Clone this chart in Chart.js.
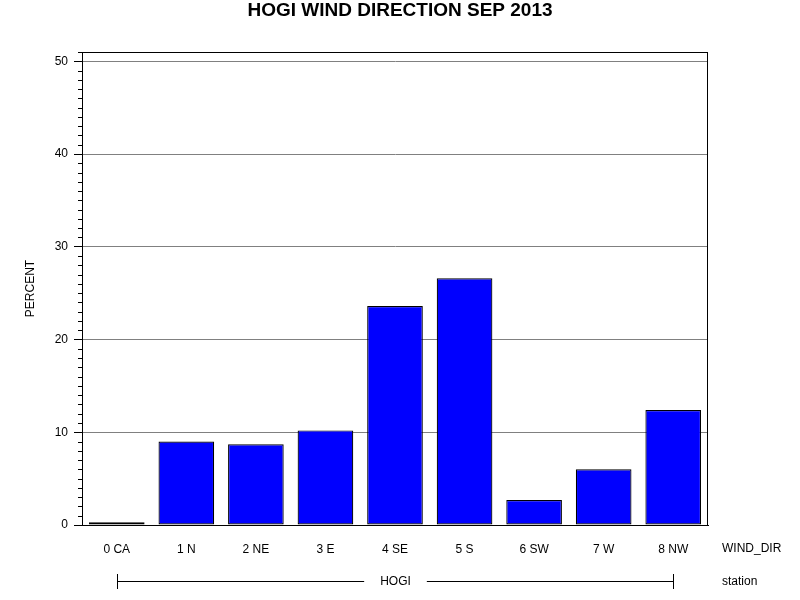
<!DOCTYPE html>
<html>
<head>
<meta charset="utf-8">
<script src="https://cdn.jsdelivr.net/npm/chart.js@4"></script>
<style>
html,body{margin:0;padding:0;background:#fff;}
#wrap{width:800px;height:600px;}
</style>
</head>
<body>
<div id="wrap"><canvas id="c" width="800" height="600"></canvas></div>
<script>
const categories = ["0 CA","1 N","2 NE","3 E","4 SE","5 S","6 SW","7 W","8 NW"];
const percentValues = [0.3, 9.0, 8.7, 10.2, 23.6, 26.6, 2.7, 6.0, 12.4];
const yTickValues = [0, 10, 20, 30, 40, 50];
const yMinorStep = 1;
const yMax = 51;
const titleText = "HOGI WIND DIRECTION SEP 2013";
const yTitle = "PERCENT";
const xVarLabel = "WIND_DIR";
const groupVarLabel = "station";
const groupName = "HOGI";

const FONT = "'Liberation Sans', Arial, sans-serif";

const decor = {
  id: 'decor',
  afterDraw(chart) {
    const ctx = chart.ctx;
    const a = chart.chartArea;
    const ys = chart.scales.y;
    const xs = chart.scales.x;
    ctx.save();
    // frame
    ctx.strokeStyle = '#000';
    ctx.lineWidth = 1;
    ctx.strokeRect(a.left + 0.5, a.top + 0.5, a.right - a.left - 1, a.bottom - a.top);
    // minor ticks
    ctx.beginPath();
    for (let v = 0; v <= yMax; v += yMinorStep) {
      if (yTickValues.includes(v)) continue;
      const p = Math.round(ys.getPixelForValue(v)) + 0.5;
      ctx.moveTo(a.left - 4, p);
      ctx.lineTo(a.left, p);
    }
    ctx.stroke();
    // title
    ctx.fillStyle = '#000';
    ctx.font = 'bold 19px ' + FONT;
    ctx.textAlign = 'center';
    ctx.textBaseline = 'middle';
    ctx.fillText(titleText, 400, 11);
    // variable labels
    ctx.font = '12px ' + FONT;
    ctx.textAlign = 'left';
    ctx.fillText(xVarLabel, 722, 549);
    ctx.fillText(groupVarLabel, 722, 582);
    // group line
    const x0 = Math.round(xs.getPixelForValue(0)) + 0.5;
    const x1 = Math.round(xs.getPixelForValue(categories.length - 1)) + 0.5;
    const gy = 581.5;
    const xm = (x0 + x1) / 2;
    ctx.textAlign = 'center';
    ctx.fillText(groupName, xm, 582);
    const tw = ctx.measureText(groupName).width;
    const gap = 16;
    ctx.beginPath();
    ctx.moveTo(x0, gy); ctx.lineTo(xm - tw / 2 - gap, gy);
    ctx.moveTo(xm + tw / 2 + gap, gy); ctx.lineTo(x1, gy);
    ctx.moveTo(x0, 574); ctx.lineTo(x0, 589);
    ctx.moveTo(x1, 574); ctx.lineTo(x1, 589);
    ctx.stroke();
    ctx.restore();
  }
};

new Chart(document.getElementById('c'), {
  type: 'bar',
  data: {
    labels: categories,
    datasets: [{
      data: percentValues,
      backgroundColor: '#0000FF',
      borderColor: '#000000',
      borderWidth: 1.2,
      borderSkipped: false,
      barPercentage: 0.8,
      categoryPercentage: 1.0
    }]
  },
  options: {
    responsive: false,
    animation: false,
    devicePixelRatio: 1,
    layout: { padding: { top: 52, right: 92, bottom: 0, left: 0 } },
    plugins: { legend: { display: false }, title: { display: false }, tooltip: { enabled: false } },
    scales: {
      x: {
        grid: { display: false, drawTicks: false },
        border: { display: true, color: '#000' },
        ticks: { color: '#000', font: { family: FONT, size: 12 }, padding: 17, maxRotation: 0 },
        afterFit(s) { s.height = 75; }
      },
      y: {
        min: 0,
        max: yMax,
        afterBuildTicks(s) { s.ticks = yTickValues.map(v => ({ value: v })); },
        grid: { color: '#808080', tickColor: '#000', tickLength: 8, lineWidth: 1 },
        border: { display: true, color: '#000' },
        ticks: { color: '#000', font: { family: FONT, size: 12 }, padding: 6 },
        title: { display: true, text: yTitle, color: '#000', font: { family: FONT, size: 12 }, padding: { top: 23, bottom: 0 } },
        afterFit(s) { s.width = 82; }
      }
    }
  },
  plugins: [decor]
});
</script>
</body>
</html>
